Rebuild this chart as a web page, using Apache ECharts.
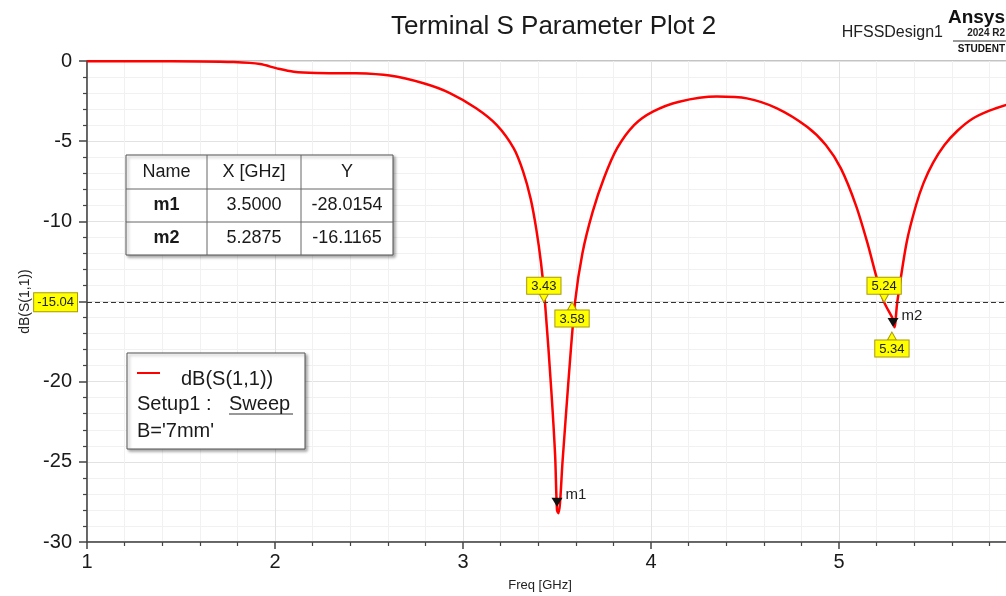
<!DOCTYPE html>
<html>
<head>
<meta charset="utf-8">
<title>Terminal S Parameter Plot 2</title>
<script src="https://cdn.jsdelivr.net/npm/echarts@6/dist/echarts.min.js"></script>
<style>
  html, body { margin: 0; padding: 0; background: #fff; }
  #chart { width: 1006px; height: 596px; }
</style>
</head>
<body>
<div id="chart"></div>
<script>
// sweep: frequency (GHz) vs dB(S(1,1))
const freq = [1.0, 1.3, 1.6, 1.78, 1.92, 2.01, 2.10, 2.22, 2.43, 2.61, 2.79, 2.93, 3.07, 3.18, 3.27, 3.32, 3.36, 3.39, 3.415,
  3.436, 3.47, 3.49, 3.50, 3.508, 3.53, 3.56, 3.596, 3.635, 3.69, 3.75, 3.82, 3.91, 4.01, 4.15, 4.35, 4.51, 4.67,
  4.83, 4.93, 5.01, 5.09, 5.15, 5.20, 5.24, 5.2875, 5.295, 5.31, 5.36, 5.41, 5.45, 5.50, 5.56, 5.63, 5.71, 5.80, 5.89]
const s11 = [-0.02, -0.02, -0.03, -0.07, -0.19, -0.46, -0.67, -0.75, -0.77, -0.91, -1.39, -2.0, -2.95, -4.0, -5.45, -6.9, -8.6, -10.5, -12.6,
  -15.04, -20.6, -24.6, -28.0154, -28.2, -24.9, -20.1, -15.04, -12.0, -9.4, -7.3, -5.44, -4.0, -3.16, -2.54, -2.22, -2.33, -2.95,
  -4.1, -5.24, -6.7, -9.0, -11.3, -13.5, -15.04, -16.1165, -16.6, -15.04, -11.3, -8.98, -7.6, -6.35, -5.25, -4.35, -3.6, -3.1, -2.74]

// markers
const markerNames = ['m1', 'm2']
const markerFreq = [3.5, 5.2875]
const markerDb = [-28.0154, -16.1165]

// -15.04 dB cut line and its crossings
const cutLevel = -15.04
const crossFreq = [3.43, 3.58, 5.24, 5.34]

const tableHead = ['Name', 'X [GHz]', 'Y']
const legendLines = ['dB(S(1,1))', 'Setup1 : ', 'Sweep', "B='7mm'"]

const FONT = '"Liberation Sans", Arial, sans-serif'
const YELLOW = '#ffff00'
const YEDGE = '#a89a00'

const chart = echarts.init(document.getElementById('chart'))

function callout(i, below, dx, dy) {
  return {
    coord: [crossFreq[i], cutLevel],
    value: crossFreq[i].toFixed(2),
    symbol: 'triangle',
    symbolSize: [9, 8],
    symbolRotate: below ? 0 : 180,
    symbolOffset: [dx || 0, (dy || 0) + (below ? 4 : -4)],
    itemStyle: { color: YELLOW, borderColor: YEDGE, borderWidth: 1 },
    label: {
      show: true,
      position: below ? 'bottom' : 'top',
      distance: 0,
      formatter: '{c}',
      backgroundColor: YELLOW,
      borderColor: YEDGE,
      borderWidth: 1,
      padding: [2, 4, 1, 4],
      fontSize: 13,
      fontFamily: FONT,
      color: '#222'
    }
  }
}

function marker(i, dy) {
  return {
    coord: [markerFreq[i], markerDb[i]],
    value: markerNames[i],
    symbol: 'triangle',
    symbolSize: [11, 9],
    symbolRotate: 180,
    symbolOffset: [0, dy],
    itemStyle: { color: '#111' },
    label: {
      show: true,
      position: 'right',
      distance: 3,
      offset: [0, -7],
      formatter: '{c}',
      fontSize: 15,
      fontFamily: FONT,
      color: '#222'
    }
  }
}

function txt(x, y, text, size, extra) {
  return {
    type: 'text', x: x, y: y, z: 20,
    style: Object.assign({
      text: text, fontSize: size, fontFamily: FONT, fill: '#1a1a1a',
      textVerticalAlign: 'middle', verticalAlign: 'middle'
    }, extra || {})
  }
}

// marker table (graphic)
const tbl = { cols: [126, 207, 301, 393], rows: [155, 189, 222, 255] }
const tableRows = [tableHead].concat(markerNames.map((n, i) => [n, markerFreq[i].toFixed(4), markerDb[i].toFixed(4)]))
const tableGraphics = [
  {
    type: 'rect', z: 10,
    shape: { x: tbl.cols[0], y: tbl.rows[0], width: tbl.cols[3] - tbl.cols[0], height: tbl.rows[3] - tbl.rows[0] },
    style: { fill: '#fff', stroke: '#555', lineWidth: 1, shadowColor: 'rgba(0,0,0,0.35)', shadowOffsetX: 2, shadowOffsetY: 2, shadowBlur: 3 }
  }
]
;[1, 2].forEach(c => tableGraphics.push({
  type: 'line', z: 15, shape: { x1: tbl.cols[c], y1: tbl.rows[0], x2: tbl.cols[c], y2: tbl.rows[3] }, style: { stroke: '#666', lineWidth: 1 }
}))
;[1, 2].forEach(r => tableGraphics.push({
  type: 'line', z: 15, shape: { x1: tbl.cols[0], y1: tbl.rows[r], x2: tbl.cols[3], y2: tbl.rows[r] }, style: { stroke: '#666', lineWidth: 1 }
}))
tableRows.forEach((row, r) => {
  row.forEach((t, c) => {
    tableGraphics.push(txt((tbl.cols[c] + tbl.cols[c + 1]) / 2, (tbl.rows[r] + tbl.rows[r + 1]) / 2, t, 18, {
      fontWeight: (r > 0 && c === 0) ? 'bold' : 'normal',
      textAlign: 'center', align: 'center'
    }))
  })
})

// legend box (graphic)
const legendGraphics = [
  {
    type: 'rect', z: 10,
    shape: { x: 127, y: 353, width: 178, height: 96 },
    style: { fill: '#fff', stroke: '#555', lineWidth: 1, shadowColor: 'rgba(0,0,0,0.35)', shadowOffsetX: 2, shadowOffsetY: 2, shadowBlur: 3 }
  },
  { type: 'line', z: 15, shape: { x1: 137, y1: 373, x2: 160, y2: 373 }, style: { stroke: '#ff0000', lineWidth: 2 } },
  txt(181, 379, legendLines[0], 20),
  txt(137, 404, legendLines[1], 20),
  txt(229, 404, legendLines[2], 20),
  { type: 'line', z: 15, shape: { x1: 229, y1: 414, x2: 293, y2: 414 }, style: { stroke: '#333', lineWidth: 1 } },
  txt(137, 431, legendLines[3], 20)
]

// header texts
const headerGraphics = [
  txt(943, 33, 'HFSSDesign1', 16, { fill: '#222', textAlign: 'right', align: 'right' }),
  txt(1005, 18, 'Ansys', 19, { fontWeight: 'bold', fill: '#111', textAlign: 'right', align: 'right' }),
  txt(1005, 33, '2024 R2', 10, { fontWeight: 'bold', fill: '#222', textAlign: 'right', align: 'right' }),
  { type: 'line', z: 15, shape: { x1: 953, y1: 41, x2: 1006, y2: 41 }, style: { stroke: '#333', lineWidth: 1 } },
  txt(1005, 49, 'STUDENT', 10, { fontWeight: 'bold', fill: '#111', textAlign: 'right', align: 'right' }),
  txt(540, 585, 'Freq [GHz]', 13, { fill: '#222', textAlign: 'center', align: 'center' })
]

chart.setOption({
  animation: false,
  backgroundColor: '#ffffff',
  title: {
    text: 'Terminal S Parameter Plot 2',
    left: 386,
    top: 9,
    textStyle: { fontSize: 26, fontWeight: 'normal', fontFamily: FONT, color: '#1a1a1a' }
  },
  grid: {
    left: 87,
    top: 61,
    right: -21,
    height: 481,
    outerBoundsMode: 'none',
    containLabel: false,
    show: true,
    borderColor: '#888',
    borderWidth: 1,
    backgroundColor: '#fff'
  },
  xAxis: {
    type: 'value',
    min: 1,
    max: 6,
    interval: 1,
    axisLine: { onZero: false, lineStyle: { color: '#444', width: 1.5 } },
    axisTick: { length: 7, lineStyle: { color: '#444', width: 1.5 } },
    minorTick: { show: true, splitNumber: 5, length: 4, lineStyle: { color: '#444', width: 1.2 } },
    splitLine: { show: true, lineStyle: { color: '#e2e2e2', width: 1 } },
    minorSplitLine: { show: true, lineStyle: { color: '#f1f1f1', width: 1 } },
    axisLabel: { fontSize: 20, fontFamily: FONT, color: '#1a1a1a', margin: 10 }
  },
  yAxis: {
    type: 'value',
    min: -30,
    max: 0,
    interval: 5,
    name: 'dB(S(1,1))',
    nameLocation: 'middle',
    nameGap: 53,
    nameTextStyle: { fontSize: 14, fontFamily: FONT, color: '#222' },
    axisLine: { onZero: false, lineStyle: { color: '#444', width: 1.5 } },
    axisTick: { length: 8, lineStyle: { color: '#444', width: 1.5 } },
    minorTick: { show: true, splitNumber: 5, length: 4, lineStyle: { color: '#444', width: 1.2 } },
    splitLine: { show: true, lineStyle: { color: '#e2e2e2', width: 1 } },
    minorSplitLine: { show: true, lineStyle: { color: '#f1f1f1', width: 1 } },
    axisLabel: { fontSize: 20, fontFamily: FONT, color: '#1a1a1a', margin: 15 }
  },
  series: [
    {
      name: 'dB(S(1,1))',
      type: 'line',
      data: freq.map((f, i) => [f, s11[i]]),
      showSymbol: false,
      smooth: 0.3,
      lineStyle: { color: '#ff0000', width: 2.5 },
      itemStyle: { color: '#ff0000' },
      z: 3,
      markLine: {
        silent: true,
        symbol: 'none',
        lineStyle: { color: '#333', type: [5, 3], width: 1 },
        label: {
          show: true,
          position: 'start',
          distance: 10,
          formatter: String(cutLevel),
          backgroundColor: YELLOW,
          borderColor: YEDGE,
          borderWidth: 1,
          padding: [3, 3, 2, 3],
          fontSize: 13,
          fontFamily: FONT,
          color: '#222'
        },
        data: [{ yAxis: cutLevel }]
      },
      markPoint: {
        silent: true,
        data: [
          callout(0, false),
          callout(1, true),
          callout(2, false),
          callout(3, true, -11, 30),
          marker(0, -8),
          marker(1, 3)
        ]
      }
    }
  ],
  graphic: tableGraphics.concat(legendGraphics, headerGraphics)
})
</script>
</body>
</html>
